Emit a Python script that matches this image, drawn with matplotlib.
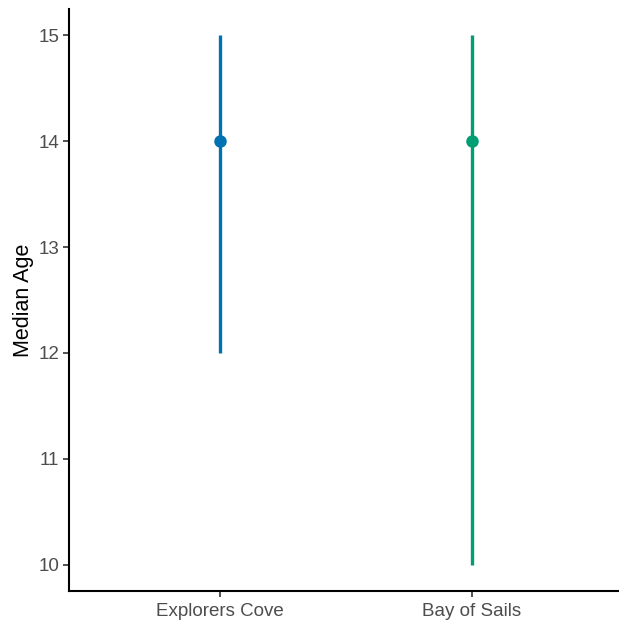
import matplotlib
matplotlib.use("Agg")
import matplotlib.pyplot as plt

categories = ["Explorers Cove", "Bay of Sails"]
median_age = [14, 14]
low_age = [12, 10]
high_age = [15, 15]
colors = ["#0072B2", "#009E73"]

plt.rcParams['font.family'] = ['Liberation Sans', 'DejaVu Sans']

fig = plt.figure(figsize=(6.19, 6.23), dpi=100)
W, H = 619, 623
ax = fig.add_axes([69 / W, 32 / H, (623 - 69) / W, (591.5 - 9.5) / H])

xs = list(range(1, len(categories) + 1))
for x, m, lo, hi, c in zip(xs, median_age, low_age, high_age, colors):
    ax.plot([x, x], [lo, hi], color=c, lw=2.4, solid_capstyle='butt', zorder=2)
    ax.plot([x], [m], 'o', color=c, ms=8, zorder=3)

ax.set_xlim(0.4, 2.6)
ax.set_ylim(9.75, 15.25)
ax.set_xticks(xs)
ax.set_xticklabels(categories)
ax.set_yticks([10, 11, 12, 13, 14, 15])

for s in ['top', 'right']:
    ax.spines[s].set_visible(False)
for s in ['left', 'bottom']:
    ax.spines[s].set_linewidth(1.5)
    ax.spines[s].set_color('black')

ax.tick_params(axis='both', length=4.5, width=1.2, color='#333333',
               labelsize=13.5, labelcolor='#4D4D4D', pad=2.5)
ax.tick_params(axis='x', pad=4)
ax.set_ylabel("Median Age", fontsize=15.5, color='black', labelpad=3.5)

fig.savefig("out.png", dpi=100)
